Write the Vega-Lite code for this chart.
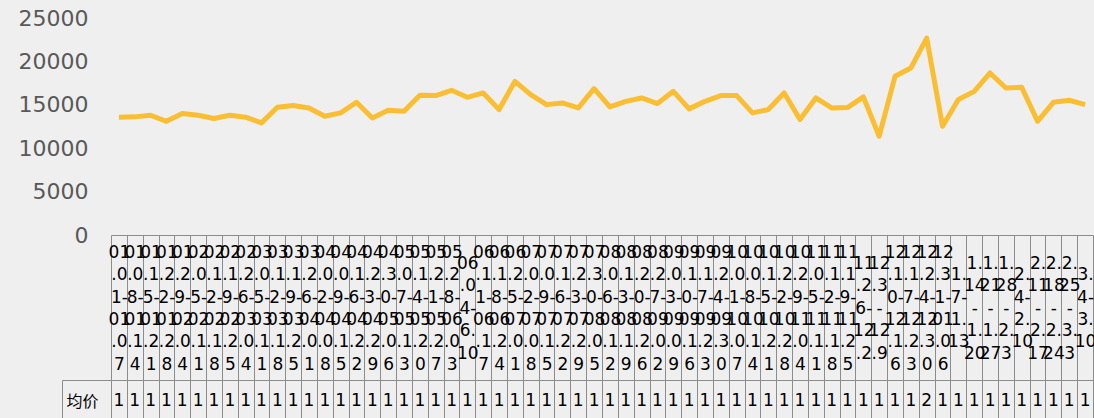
{
  "$schema": "https://vega.github.io/schema/vega-lite/v6.json",
  "background": "#efefef",
  "padding": {"top": 7, "left": 18, "right": 0, "bottom": 0},
  "spacing": 145,
  "bounds": "flush",
  "config": {"font": "DejaVu Sans"},
  "data": {"values": [
    {"period": "01.01-01.07", "price": 13575, "metric": "均价"},
    {"period": "01.08-01.14", "price": 13610, "metric": "均价"},
    {"period": "01.15-01.21", "price": 13795, "metric": "均价"},
    {"period": "01.22-01.28", "price": 13100, "metric": "均价"},
    {"period": "01.29-02.04", "price": 13990, "metric": "均价"},
    {"period": "02.05-02.11", "price": 13795, "metric": "均价"},
    {"period": "02.12-02.18", "price": 13415, "metric": "均价"},
    {"period": "02.19-02.25", "price": 13795, "metric": "均价"},
    {"period": "02.26-03.04", "price": 13575, "metric": "均价"},
    {"period": "03.05-03.11", "price": 12920, "metric": "均价"},
    {"period": "03.12-03.18", "price": 14710, "metric": "均价"},
    {"period": "03.19-03.25", "price": 14910, "metric": "均价"},
    {"period": "03.26-04.01", "price": 14640, "metric": "均价"},
    {"period": "04.02-04.08", "price": 13680, "metric": "均价"},
    {"period": "04.09-04.15", "price": 14070, "metric": "均价"},
    {"period": "04.16-04.22", "price": 15290, "metric": "均价"},
    {"period": "04.23-04.29", "price": 13490, "metric": "均价"},
    {"period": "04.30-05.06", "price": 14370, "metric": "均价"},
    {"period": "05.07-05.13", "price": 14250, "metric": "均价"},
    {"period": "05.14-05.20", "price": 16090, "metric": "均价"},
    {"period": "05.21-05.27", "price": 16060, "metric": "均价"},
    {"period": "05.28-06.03", "price": 16670, "metric": "均价"},
    {"period": "06.04-6.10", "price": 15860, "metric": "均价"},
    {"period": "06.11-06.17", "price": 16370, "metric": "均价"},
    {"period": "06.18-06.24", "price": 14450, "metric": "均价"},
    {"period": "06.25-07.01", "price": 17700, "metric": "均价"},
    {"period": "07.02-07.08", "price": 16170, "metric": "均价"},
    {"period": "07.09-07.15", "price": 15020, "metric": "均价"},
    {"period": "07.16-07.22", "price": 15220, "metric": "均价"},
    {"period": "07.23-07.29", "price": 14640, "metric": "均价"},
    {"period": "07.30-08.05", "price": 16860, "metric": "均价"},
    {"period": "08.06-08.12", "price": 14760, "metric": "均价"},
    {"period": "08.13-08.19", "price": 15400, "metric": "均价"},
    {"period": "08.20-08.26", "price": 15790, "metric": "均价"},
    {"period": "08.27-09.02", "price": 15140, "metric": "均价"},
    {"period": "09.03-09.09", "price": 16550, "metric": "均价"},
    {"period": "09.10-09.16", "price": 14530, "metric": "均价"},
    {"period": "09.17-09.23", "price": 15400, "metric": "均价"},
    {"period": "09.24-09.30", "price": 16060, "metric": "均价"},
    {"period": "10.01-10.07", "price": 16060, "metric": "均价"},
    {"period": "10.08-10.14", "price": 14070, "metric": "均价"},
    {"period": "10.15-10.21", "price": 14450, "metric": "均价"},
    {"period": "10.22-10.28", "price": 16370, "metric": "均价"},
    {"period": "10.29-11.04", "price": 13300, "metric": "均价"},
    {"period": "11.05-11.11", "price": 15790, "metric": "均价"},
    {"period": "11.12-11.18", "price": 14640, "metric": "均价"},
    {"period": "11.19-11.25", "price": 14680, "metric": "均价"},
    {"period": "11.26-12.2", "price": 15910, "metric": "均价"},
    {"period": "12.3-12.9", "price": 11380, "metric": "均价"},
    {"period": "12.10-12.16", "price": 18280, "metric": "均价"},
    {"period": "12.17-12.23", "price": 19240, "metric": "均价"},
    {"period": "12.24-12.30", "price": 22690, "metric": "均价"},
    {"period": "12.31-01.06", "price": 12530, "metric": "均价"},
    {"period": "1.7-1.13", "price": 15600, "metric": "均价"},
    {"period": "1.14-1.20", "price": 16550, "metric": "均价"},
    {"period": "1.21-1.27", "price": 18670, "metric": "均价"},
    {"period": "1.28-2.3", "price": 16940, "metric": "均价"},
    {"period": "2.4-2.10", "price": 17010, "metric": "均价"},
    {"period": "2.11-2.17", "price": 13100, "metric": "均价"},
    {"period": "2.18-2.24", "price": 15290, "metric": "均价"},
    {"period": "2.25-3.3", "price": 15520, "metric": "均价"},
    {"period": "3.4-3.10", "price": 15020, "metric": "均价"}
  ]},
  "vconcat": [
    {
      "width": 982,
      "height": 217,
      "view": {"stroke": null},
      "mark": {"type": "line", "color": "#FABE32", "strokeWidth": 5, "strokeJoin": "round", "strokeCap": "butt"},
      "encoding": {
        "x": {
          "field": "period", "type": "nominal", "sort": null, "bandPosition": 0.5,
          "scale": {"type": "band", "paddingInner": 0, "paddingOuter": 0},
          "axis": {
            "title": null, "orient": "bottom",
            "domain": true, "domainColor": "#8c8c8c", "domainWidth": 1,
            "ticks": true, "tickBand": "extent", "tickSize": 145, "tickColor": "#8c8c8c", "tickWidth": 1,
            "labelAngle": 0, "labelAlign": "center", "labelBaseline": "middle",
            "labelPadding": {
              "condition": [
                {"test": "(indexof(datum.label,'-') > 3 ? 3 : 2) + (length(datum.label) - indexof(datum.label,'-') > 5 ? 3 : 2) == 5", "value": -116.5},
                {"test": "(indexof(datum.label,'-') > 3 ? 3 : 2) + (length(datum.label) - indexof(datum.label,'-') > 5 ? 3 : 2) == 4", "value": -105.3}
              ],
              "value": -127.7
            },
            "labelFontSize": 17, "labelLineHeight": 22.4, "labelColor": "#000000",
            "labelFont": "DejaVu Sans", "labelOverlap": false, "labelBound": false, "labelLimit": 0, "labelFlush": false,
            "labelExpr": "split(substring(datum.label,0,2) + '|' + substring(datum.label,2,4) + (indexof(datum.label,'-') > 3 ? '|' + substring(datum.label,4,indexof(datum.label,'-')+1) : '') + '|' + substring(datum.label,indexof(datum.label,'-')+1,indexof(datum.label,'-')+3) + '|' + substring(datum.label,indexof(datum.label,'-')+3,indexof(datum.label,'-')+5) + (length(datum.label) - indexof(datum.label,'-') > 5 ? '|' + substring(datum.label,indexof(datum.label,'-')+5) : ''), '|')"
          }
        },
        "y": {
          "field": "price", "type": "quantitative",
          "scale": {"domain": [0, 25000], "nice": false},
          "axis": {
            "title": null, "values": [0, 5000, 10000, 15000, 20000, 25000], "format": "d",
            "domain": false, "ticks": false, "grid": false,
            "labelFontSize": 22, "labelColor": "#595959", "labelPadding": 23, "labelFont": "DejaVu Sans"
          }
        }
      }
    },
    {
      "width": 982,
      "height": 42,
      "view": {"stroke": "#8c8c8c", "strokeWidth": 1},
      "mark": {"type": "text", "fontSize": 17, "font": "DejaVu Sans", "color": "#000000", "limit": 18, "ellipsis": " "},
      "encoding": {
        "x": {
          "field": "period", "type": "nominal", "sort": null,
          "scale": {"type": "band", "paddingInner": 0, "paddingOuter": 0},
          "axis": {"title": null, "labels": false, "ticks": false, "domain": false, "grid": true, "gridColor": "#8c8c8c", "gridWidth": 1, "gridOpacity": 1, "tickBand": "extent"}
        },
        "y": {
          "field": "metric", "type": "nominal",
          "scale": {"type": "band", "paddingInner": 0, "paddingOuter": 0},
          "axis": {
            "title": null, "offset": 49, "domain": true, "domainColor": "#8c8c8c", "domainWidth": 1,
            "ticks": true, "tickBand": "extent", "tickSize": -49, "tickColor": "#8c8c8c", "tickWidth": 1,
            "labelAlign": "left", "labelPadding": 45, "labelFontSize": 16, "labelColor": "#000000",
            "labelFont": "Noto Sans CJK SC", "labelBaseline": "middle"
          }
        },
        "text": {"field": "price", "type": "quantitative", "format": "d"}
      }
    }
  ]
}
